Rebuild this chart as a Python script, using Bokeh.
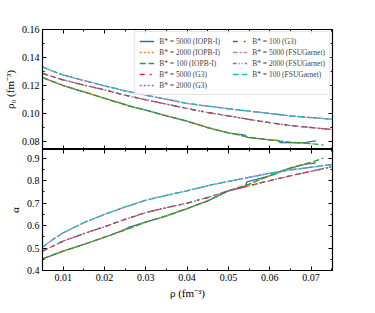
from bokeh.plotting import figure
from bokeh.models import (Range1d, LinearAxis, Legend, LegendItem, FixedTicker,
                          NumeralTickFormatter, CustomLabelingPolicy)
from bokeh.layouts import column
from bokeh.embed import file_html
from bokeh.resources import INLINE

# ---------------- data ----------------
rho_iopb = [0.005, 0.010, 0.015, 0.020, 0.025, 0.030, 0.035, 0.040, 0.045, 0.050, 0.055, 0.060, 0.065, 0.070, 0.073]
rho0_iopb_100 = [0.1257, 0.1200, 0.1155, 0.1109, 0.1062, 0.1024, 0.0983, 0.0945, 0.0900, 0.0862, 0.0831, 0.0812, 0.0795, 0.0785, 0.0775]
alpha_iopb_100 = [0.452, 0.486, 0.516, 0.549, 0.580, 0.616, 0.643, 0.676, 0.710, 0.755, 0.785, 0.822, 0.857, 0.882, 0.901]

rho_iopb_2000 = [0.005, 0.010, 0.015, 0.020, 0.025, 0.030, 0.035, 0.040, 0.045, 0.050, 0.055, 0.060, 0.065, 0.070]
rho0_iopb_2000 = [0.1257, 0.1200, 0.1155, 0.1109, 0.1062, 0.1024, 0.0983, 0.0945, 0.0900, 0.0862, 0.0831, 0.0812, 0.0795, 0.0785]
alpha_iopb_2000 = [0.452, 0.486, 0.516, 0.549, 0.580, 0.616, 0.643, 0.676, 0.710, 0.755, 0.785, 0.822, 0.857, 0.880]

rho_iopb_5000 = [0.005, 0.010, 0.015, 0.020, 0.025, 0.026, 0.030, 0.035, 0.040, 0.045, 0.050, 0.054, 0.0545, 0.060, 0.062, 0.0625, 0.068, 0.0712]
rho0_iopb_5000 = [0.1257, 0.1200, 0.1155, 0.1109, 0.1066, 0.1052, 0.1024, 0.0983, 0.0945, 0.0900, 0.0862, 0.0845, 0.0829, 0.0812, 0.0808, 0.0793, 0.0790, 0.0805]
alpha_iopb_5000 = [0.452, 0.486, 0.516, 0.547, 0.583, 0.593, 0.616, 0.643, 0.676, 0.710, 0.755, 0.772, 0.795, 0.822, 0.835, 0.842, 0.872, 0.879]

rho_g3 = [0.005, 0.010, 0.015, 0.020, 0.025, 0.030, 0.035, 0.040, 0.045, 0.050, 0.055, 0.060, 0.065, 0.070, 0.0752]
rho0_g3 = [0.1286, 0.1240, 0.1203, 0.1169, 0.1131, 0.1098, 0.1067, 0.1036, 0.1007, 0.0983, 0.0958, 0.0935, 0.0914, 0.0900, 0.0885]
alpha_g3 = [0.486, 0.531, 0.564, 0.595, 0.628, 0.658, 0.680, 0.700, 0.725, 0.755, 0.778, 0.800, 0.822, 0.842, 0.863]

rho_fsu = [0.005, 0.0075, 0.010, 0.015, 0.020, 0.025, 0.030, 0.035, 0.040, 0.045, 0.050, 0.055, 0.060, 0.065, 0.070, 0.0752]
rho0_fsu = [0.1334, 0.1302, 0.1275, 0.1236, 0.1198, 0.1162, 0.1131, 0.1102, 0.1072, 0.1053, 0.1034, 0.1017, 0.1001, 0.0983, 0.0971, 0.0959]
alpha_fsu = [0.504, 0.538, 0.568, 0.613, 0.650, 0.683, 0.713, 0.735, 0.755, 0.778, 0.797, 0.815, 0.833, 0.848, 0.860, 0.872]

labels = ["B* = 5000 (IOPB-I)", "B* = 2000 (IOPB-I)", "B* = 100 (IOPB-I)",
          "B* = 5000 (G3)", "B* = 2000 (G3)", "B* = 100 (G3)",
          "B* = 5000 (FSUGarnet)", "B* = 2000 (FSUGarnet)", "B* = 100 (FSUGarnet)"]

x_ticks = [0.01, 0.02, 0.03, 0.04, 0.05, 0.06, 0.07]
x_minor = [0.005, 0.01, 0.015, 0.02, 0.025, 0.03, 0.035, 0.04, 0.045, 0.05, 0.055, 0.06, 0.065, 0.07, 0.075]
y1_ticks = [0.08, 0.10, 0.12, 0.14, 0.16]
y1_minor = [0.08, 0.09, 0.10, 0.11, 0.12, 0.13, 0.14, 0.15, 0.16]
y2_ticks = [0.4, 0.5, 0.6, 0.7, 0.8, 0.9]
y2_minor = [0.4, 0.45, 0.5, 0.55, 0.6, 0.65, 0.7, 0.75, 0.8, 0.85, 0.9]

series = [
    (labels[0], "#1f77b4", "solid", rho_iopb_5000, rho0_iopb_5000, alpha_iopb_5000),
    (labels[1], "#ff7f0e", "2 2", rho_iopb_2000, rho0_iopb_2000, alpha_iopb_2000),
    (labels[2], "#2ca02c", "6 3", rho_iopb, rho0_iopb_100, alpha_iopb_100),
    (labels[3], "#d62728", "5 5 2 5", rho_g3, rho0_g3, alpha_g3),
    (labels[4], "#9467bd", "2 2", rho_g3, rho0_g3, alpha_g3),
    (labels[5], "#8c564b", "5 6 2 6", rho_g3, rho0_g3, alpha_g3),
    (labels[6], "#e377c2", "5 2 2 2", rho_fsu, rho0_fsu, alpha_fsu),
    (labels[7], "#7f7f7f", "4 2 1 2 1 2", rho_fsu, rho0_fsu, alpha_fsu),
    (labels[8], "#17becf", "6 3", rho_fsu, rho0_fsu, alpha_fsu),
]

FONT = "Liberation Serif"
LW = 1.3

xr = Range1d(0.005, 0.0752)


def style_axis(ax, ticks, minor, fmt=None, show_labels=True):
    ax.ticker = FixedTicker(ticks=ticks, minor_ticks=minor)
    ax.major_tick_in = 4
    ax.major_tick_out = 0
    ax.minor_tick_in = 2
    ax.minor_tick_out = 0
    ax.axis_line_color = "black"
    ax.major_tick_line_color = "black"
    ax.minor_tick_line_color = "black"
    ax.major_label_text_font = FONT
    ax.major_label_text_color = "black"
    ax.axis_label_text_font = FONT
    ax.axis_label_text_font_style = "normal"
    ax.axis_label_text_color = "black"
    if fmt is not None:
        ax.formatter = NumeralTickFormatter(format=fmt)
    if show_labels:
        ax.major_label_text_font_size = "10px"
        ax.major_label_standoff = 3
    else:
        ax.major_label_text_font_size = "0px"
        ax.major_label_policy = CustomLabelingPolicy(code="return []")
        ax.major_label_standoff = 0


def make_fig(fh, yr, mt, mb):
    p = figure(frame_width=290, frame_height=fh, x_range=xr, y_range=yr,
               output_backend="svg", toolbar_location=None,
               min_border_left=39, min_border_right=20,
               min_border_top=mt, min_border_bottom=mb)
    p.xgrid.visible = False
    p.ygrid.visible = False
    p.outline_line_color = "black"
    p.outline_line_width = 1.2
    p.background_fill_color = "white"
    p.border_fill_color = "white"
    return p


p1 = make_fig(120, Range1d(0.0743, 0.16), 29, 0)
p2 = make_fig(121, Range1d(0.4, 0.939), 0, 4)

# top panel axes
style_axis(p1.xaxis[0], x_ticks, x_minor, show_labels=False)
style_axis(p1.yaxis[0], y1_ticks, y1_minor, fmt="0.00")
p1.yaxis[0].axis_label = "ρ₀ (fm⁻³)"
p1.yaxis[0].axis_label_text_font_size = "11px"
p1.yaxis[0].axis_label_standoff = 3
ax = LinearAxis(); style_axis(ax, y1_ticks, y1_minor, show_labels=False); p1.add_layout(ax, "right")
ax = LinearAxis(); style_axis(ax, x_ticks, x_minor, show_labels=False); p1.add_layout(ax, "above")

# bottom panel axes
style_axis(p2.xaxis[0], x_ticks, x_minor, fmt="0.00")
p2.xaxis[0].axis_label = "ρ (fm⁻³)"
p2.xaxis[0].axis_label_text_font_size = "11px"
p2.xaxis[0].axis_label_standoff = 3
style_axis(p2.yaxis[0], y2_ticks, y2_minor, fmt="0.0")
p2.yaxis[0].axis_label = "α"
p2.yaxis[0].axis_label_text_font_size = "11px"
p2.yaxis[0].axis_label_standoff = 3
ax = LinearAxis(); style_axis(ax, y2_ticks, y2_minor, show_labels=False); p2.add_layout(ax, "right")
ax = LinearAxis(); style_axis(ax, x_ticks, x_minor, show_labels=False); p2.add_layout(ax, "above")

items = []
for lab, col, dash, xs, y_top, y_bot in series:
    r1 = p1.line(xs, y_top, line_color=col, line_width=LW, line_dash=dash)
    p2.line(xs, y_bot, line_color=col, line_width=LW, line_dash=dash)
    items.append(LegendItem(label=lab, renderers=[r1]))

leg = Legend(items=items, ncols=2, location="top_right", margin=2,
             label_text_font=FONT, label_text_font_size="7.5px",
             glyph_width=15, glyph_height=10, label_height=10, label_width=72,
             label_standoff=5, spacing=1, padding=4,
             border_line_color="#cccccc", border_line_width=0.8,
             background_fill_alpha=0.85)
p1.add_layout(leg)

layout = column(p1, p2, spacing=0)

open("out.html", "w").write(file_html(layout, INLINE))
